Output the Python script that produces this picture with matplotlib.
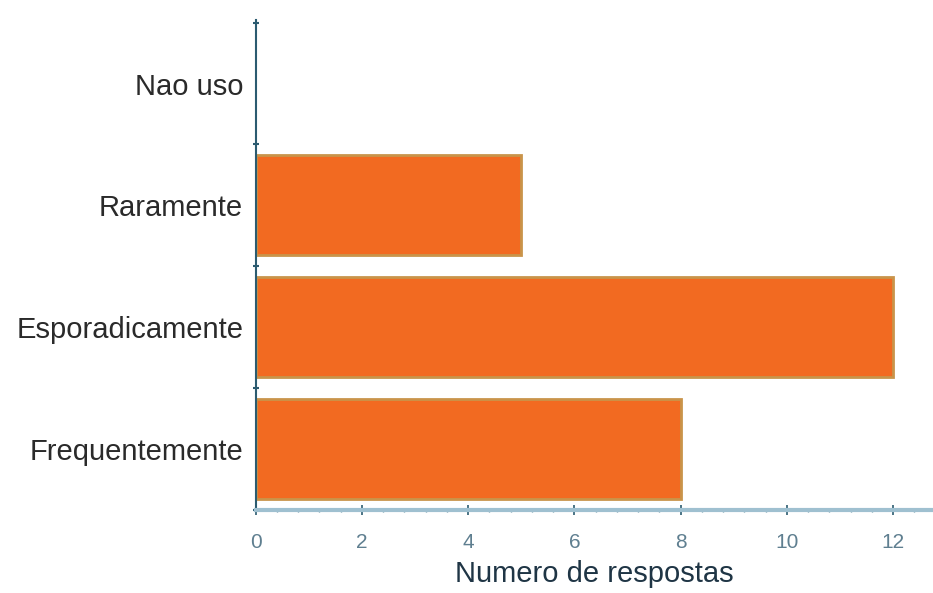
import matplotlib.pyplot as plt
import numpy as np

# data
categorias = ['Frequentemente', 'Esporadicamente', 'Raramente', 'Nao uso']
respostas = [8, 12, 5, 0]
x_ticks = [0, 2, 4, 6, 8, 10, 12]

plt.rcParams['font.family'] = ['Liberation Sans', 'DejaVu Sans']

fig = plt.figure(figsize=(9.33, 5.93), dpi=100)
ax = fig.add_axes([0.274, 0.14, 0.726, 0.826])

pos = np.arange(len(categorias))
# no outline for empty bars
larguras = [2 if v > 0 else 0 for v in respostas]
ax.barh(pos, respostas, height=0.82, color='#f26a21', edgecolor='#c9944a', linewidth=larguras)

ax.set_xlim(0, 12.75)
ax.set_ylim(-0.5, 3.52)

ax.set_yticks(pos)
ax.set_yticklabels(categorias, fontsize=21, color='#2a2a2a')
ax.set_yticks(np.arange(-0.5, 4, 1), minor=True)
ax.tick_params(axis='y', which='major', length=0, pad=9)
ax.tick_params(axis='y', which='minor', length=5, width=1.5, color='#2b5b70', direction='inout')

ax.set_xticks(x_ticks)
ax.set_xticklabels([str(v) for v in x_ticks], fontsize=15, color='#5f7f90')
ax.set_xticks(np.arange(0, 12.8, 0.4), minor=True)
ax.tick_params(axis='x', which='major', length=7, width=1.2, color='#2b5b70', direction='inout', pad=13)
ax.tick_params(axis='x', which='minor', length=3, width=1, color='#5f8fa5', direction='inout')

ax.set_xlabel('Numero de respostas', fontsize=21, color='#1f3545', labelpad=6)

for s in ['top', 'right']:
    ax.spines[s].set_visible(False)
ax.spines['left'].set_color('#2b5b70')
ax.spines['left'].set_linewidth(1.5)
ax.spines['bottom'].set_color('#9fc0d0')
ax.spines['bottom'].set_linewidth(3)

fig.savefig('out.png', dpi=100)
